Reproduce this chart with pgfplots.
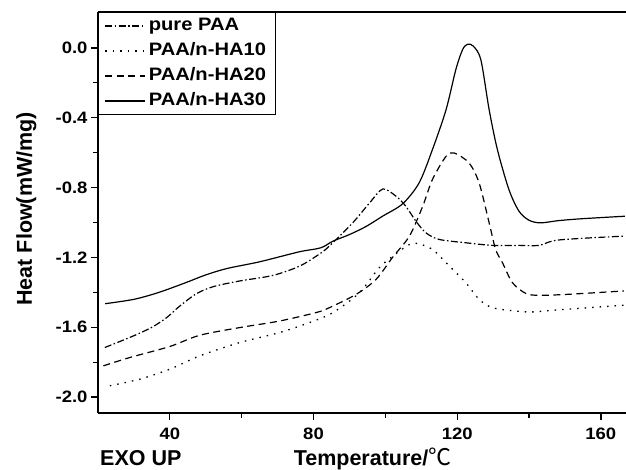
\documentclass[border=0pt]{standalone}
\usepackage{fontspec}
\setmainfont{Liberation Sans}
\newfontfamily\tickfont[FakeStretch=1.12]{Liberation Sans}
\newfontfamily\cjk{Noto Sans CJK SC}
\usepackage{pgfplots}
\pgfplotsset{compat=1.18}
\begin{document}
\begin{tikzpicture}
\begin{axis}[
  scale only axis, width=528pt, height=401pt,
  xmin=20, xmax=167, ymin=-2.091, ymax=0.2057,
  axis x line*=box, axis y line*=left,
  xtick={40,80,120,160}, ytick={-2.0,-1.6,-1.2,-0.8,-0.4,0.0},
  minor x tick num=1, minor y tick num=1,
  xtick pos=lower, ytick pos=left,
  tick align=outside,
  major tick length=7pt, minor tick length=5pt,
  every tick/.style={black, line width=1.3pt},
  axis line style={line width=1.5pt, black},
  /pgf/number format/assume math mode=true,
  tick label style={font=\tickfont\bfseries\fontsize{16.5}{19}\selectfont},
  yticklabel style={/pgf/number format/fixed, /pgf/number format/fixed zerofill, /pgf/number format/precision=1},
  xticklabel style={yshift=-4pt},
  xlabel={Temperature/{\cjk\mdseries\fontsize{23}{24}\selectfont ℃}},
  xlabel style={at={(axis description cs:0.52,-0.132)}, anchor=base, font=\bfseries\fontsize{21.5}{24}\selectfont},
  ylabel={Heat Flow(mW/mg)},
  ylabel style={at={(axis description cs:-0.125,0.509)}, anchor=base, font=\bfseries\fontsize{21.5}{24}\selectfont},
  legend image code/.code={\draw[#1] (0pt,0pt) -- (40pt,0pt);},
  legend cell align=left,
  legend style={at={(0,1)}, anchor=north west, draw=black, line width=1pt,
    inner xsep=6pt, inner ysep=1pt, row sep=0pt,
    font=\tickfont\bfseries\fontsize{18}{21}\selectfont,
    nodes={text height=12.5pt, text depth=3.5pt, inner ysep=4.5pt, inner xsep=3pt}},
]
\addplot[black, line width=1.2pt, dash pattern=on 7pt off 2.5pt on 1.5pt off 2.5pt, smooth, tension=0.5] coordinates {
(21.9,-1.716) (29.8,-1.65) (35,-1.60) (39.1,-1.545) (42.8,-1.478) (47.4,-1.408)
(52,-1.368) (59.4,-1.335) (68.7,-1.303) (76.1,-1.25) (81.7,-1.18) (84.4,-1.135)
(90.9,-1.002) (95.6,-0.888) (99.3,-0.808) (103,-0.85) (105.7,-0.907) (108.5,-0.992)
(111.3,-1.059) (115,-1.097) (122.4,-1.116) (129.8,-1.131) (137.2,-1.131) (142.8,-1.131)
(148.3,-1.10) (166.4,-1.078)};
\addlegendentry{pure PAA}
\addplot[black, line width=1.3pt, dash pattern=on 1.5pt off 6pt, smooth, tension=0.5] coordinates {
(23.3,-1.935) (31.7,-1.897) (40,-1.84) (48.3,-1.764) (59.4,-1.688) (70.6,-1.63)
(78.9,-1.573) (85.4,-1.516) (92.8,-1.402) (98.3,-1.259) (103,-1.178) (106.7,-1.126)
(109,-1.12) (113.1,-1.154) (116.9,-1.23) (122.4,-1.345) (126.1,-1.44) (129.8,-1.488)
(136.3,-1.507) (140.9,-1.512) (150.2,-1.497) (166.4,-1.474)};
\addlegendentry{PAA/n-HA10}
\addplot[black, line width=1.2pt, dash pattern=on 7pt off 4.5pt, smooth, tension=0.5] coordinates {
(21.5,-1.821) (28.9,-1.773) (40,-1.71) (48.3,-1.646) (59.4,-1.602) (70.6,-1.564)
(80.7,-1.516) (84.4,-1.488) (91.9,-1.411) (97.4,-1.326) (102,-1.2) (106.7,-1.078)
(110.4,-0.907) (113.1,-0.754) (116.9,-0.621) (119.2,-0.602) (123.3,-0.659) (126.1,-0.773)
(128.9,-1.002) (130.7,-1.154) (132.6,-1.23) (135.4,-1.345) (139.1,-1.406) (142.8,-1.417)
(151.1,-1.411) (166.4,-1.392)};
\addlegendentry{PAA/n-HA20}
\addplot[black, line width=1.2pt, smooth, tension=0.5] coordinates {
(22,-1.465) (30,-1.44) (37,-1.40) (45,-1.34) (50,-1.30) (56,-1.263) (65,-1.225)
(76,-1.168) (82,-1.145) (85.4,-1.107) (90,-1.069) (94.6,-1.023) (99.3,-0.963)
(104.8,-0.893) (109.4,-0.773) (113.1,-0.583) (116.9,-0.354) (119.6,-0.126)
(121.5,-0.01) (122.9,0.021) (124.5,0.01) (126.6,-0.069) (128.9,-0.354) (131.2,-0.583)
(134.4,-0.811) (137.2,-0.935) (140,-0.987) (143.2,-1.002) (148.3,-0.989) (155,-0.978)
(166.7,-0.964)};
\addlegendentry{PAA/n-HA30}
\coordinate (bl) at (rel axis cs:0,0);
\end{axis}
\node[anchor=base west, inner sep=0pt, font=\bfseries\fontsize{21.5}{24}\selectfont] at ([xshift=2pt,yshift=-53pt]bl) {EXO UP};
\pgfresetboundingbox
\path (bl) ++(-98pt,-57pt) rectangle ++(626pt,470pt);
\end{tikzpicture}
\end{document}
